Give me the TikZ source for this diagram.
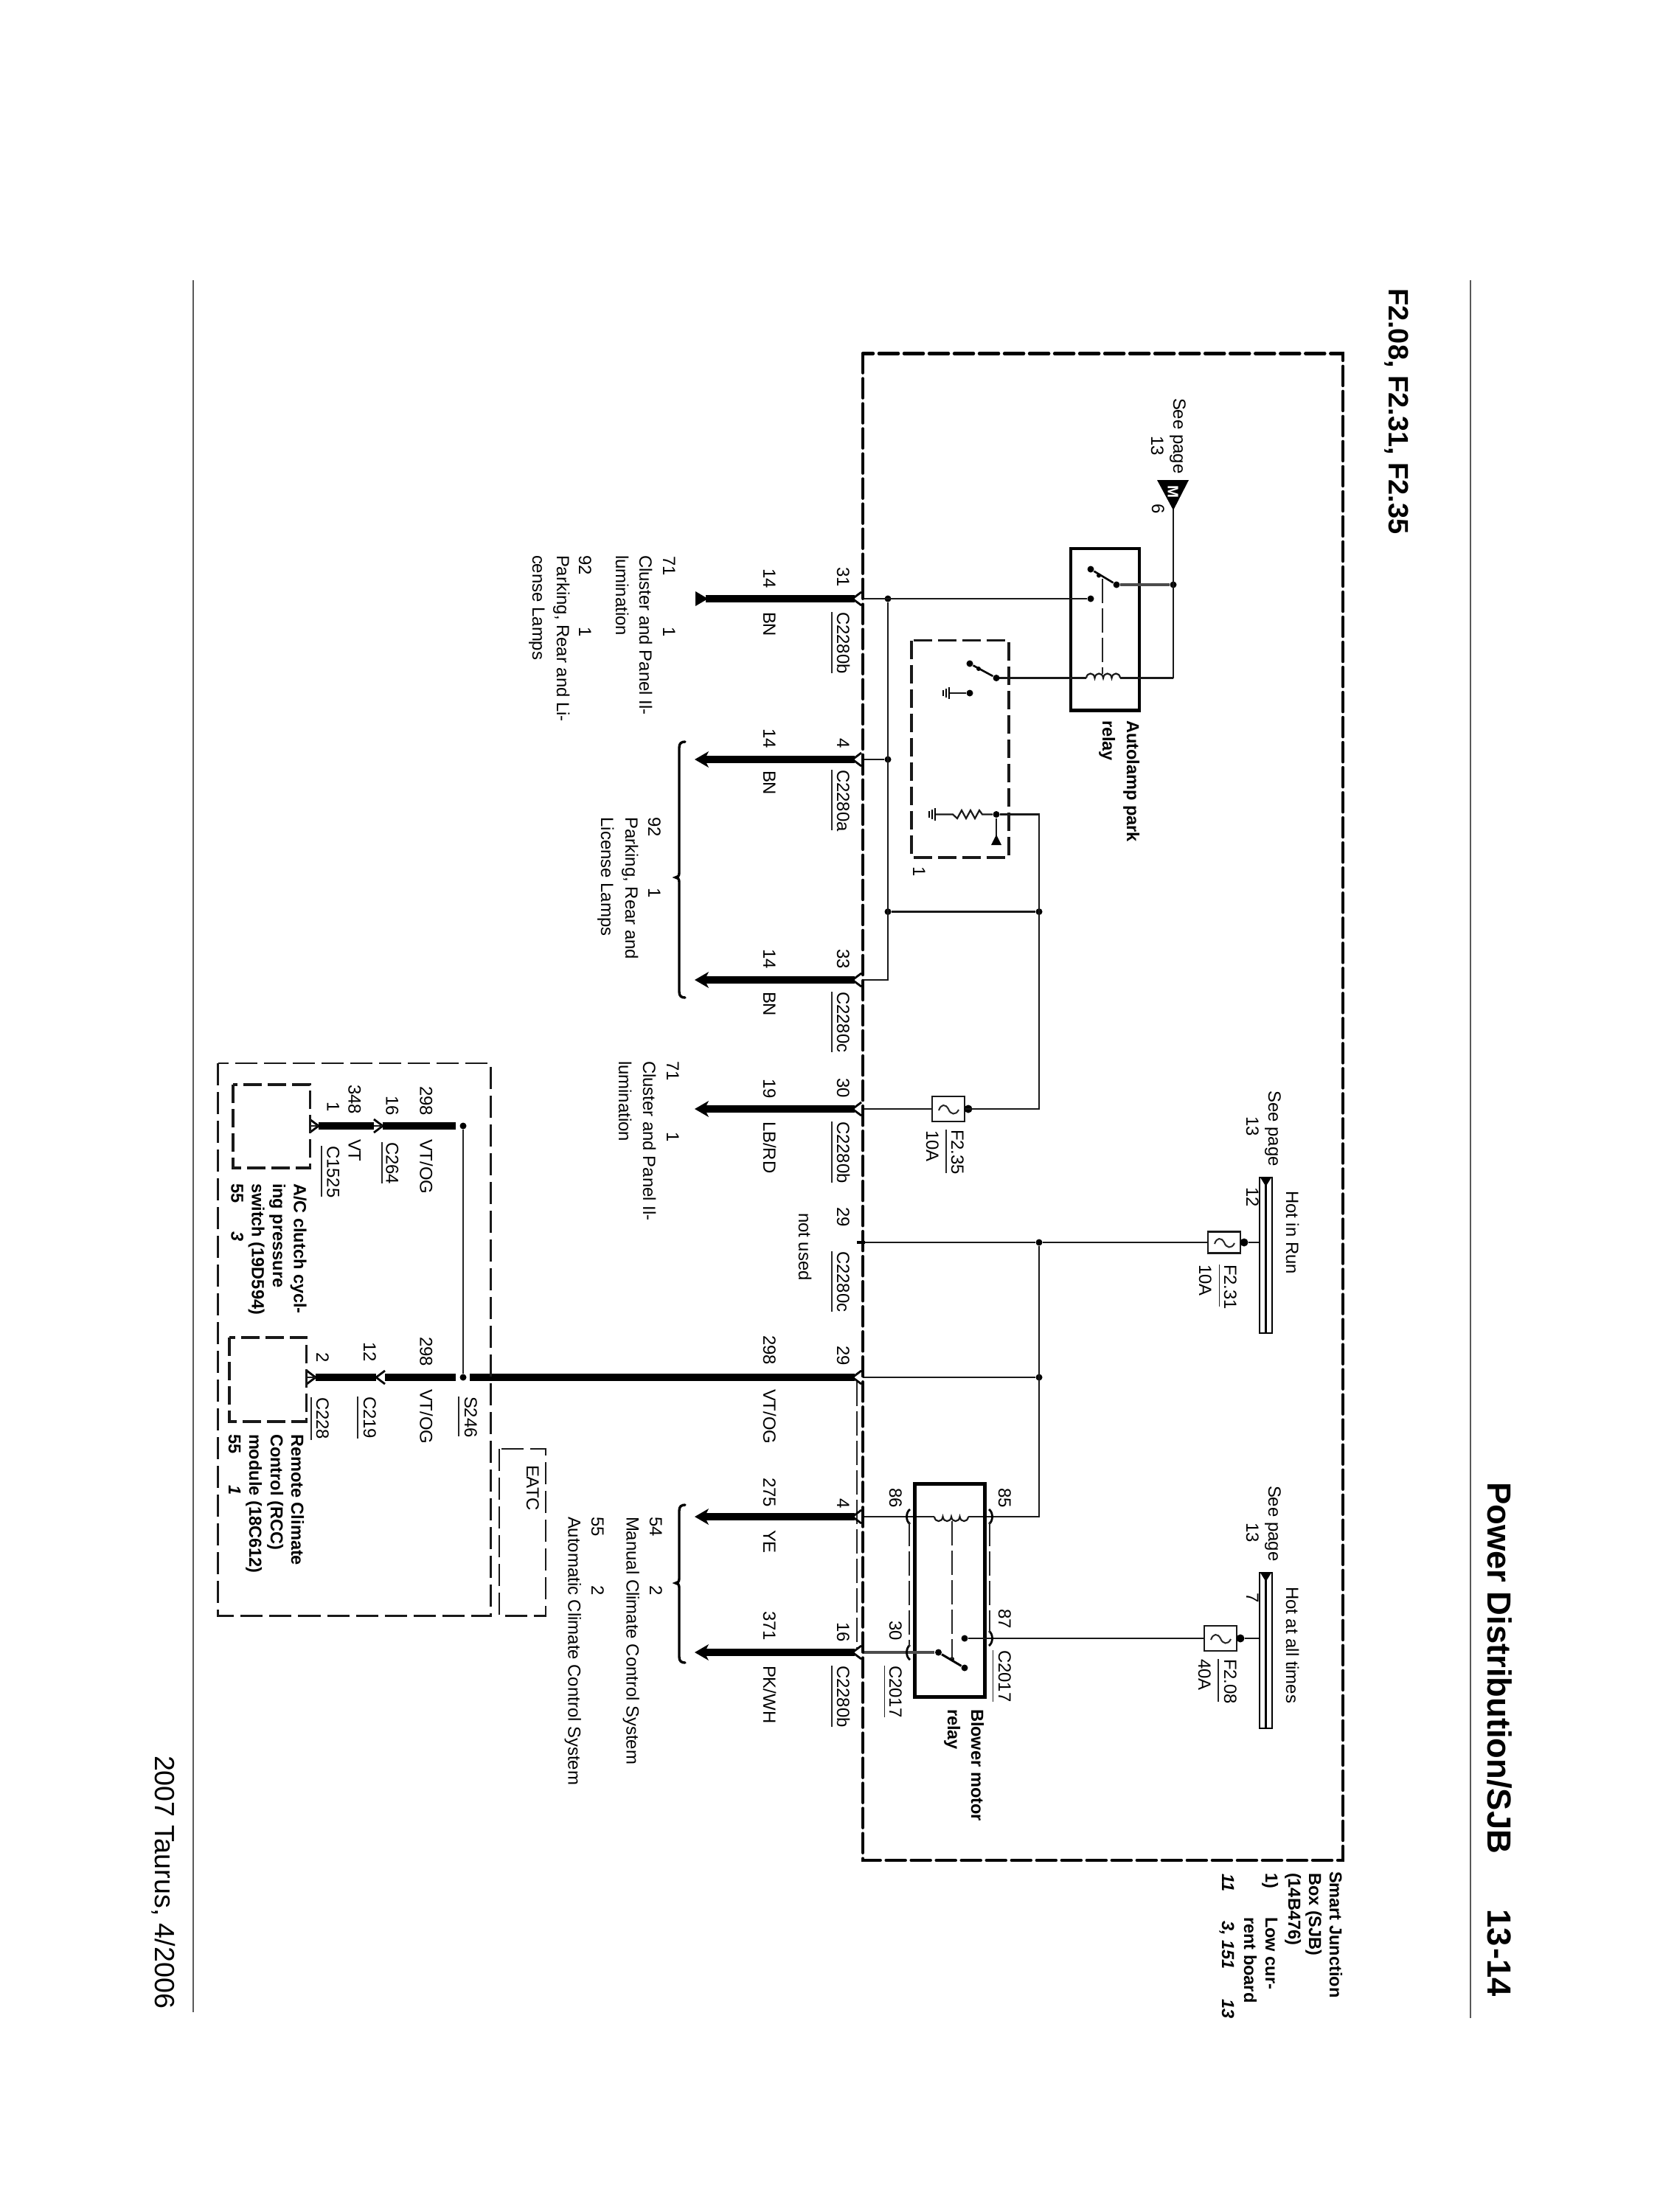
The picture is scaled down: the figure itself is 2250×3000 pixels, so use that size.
\documentclass[tikz,border=0pt]{standalone}
\usepackage{fontspec}
\setmainfont{Liberation Sans}
\usetikzlibrary{arrows.meta}
\newcount\tn
\tikzset{
 x=0.01cm,y=-0.01cm,
 txt/.style={anchor=base west,rotate=-90,inner sep=0pt,outer sep=0pt,font=\fontsize{6.8}{8}\selectfont,text=black},
 btxt/.style={txt,font=\fontsize{6.7}{8}\selectfont\bfseries},
 itxt/.style={txt,font=\fontsize{6.7}{8}\selectfont\bfseries\itshape},
 wire/.style={line width=0.022cm,black!90},
 heavy/.style={line width=0.10cm,black},
 graywire/.style={line width=0.042cm,black!70},
 link/.style={line width=0.022cm,black!85,dash pattern=on 0.33cm off 0.07cm},
 boxdash/.style={line width=0.045cm,black,line cap=round,dash pattern=on 0.26cm off 0.08cm},
 innerdash/.style={line width=0.035cm,black!90,dash pattern=on 0.25cm off 0.08cm},
 extdash/.style={line width=0.022cm,black!90,dash pattern=on 0.30cm off 0.09cm},
 jdot/.style={circle,fill=black,inner sep=0pt,minimum size=0.09cm},
 relaybox/.style={draw=black,line width=0.046cm,inner sep=0pt},
 fusebox/.style={draw=black!90,line width=0.026cm,fill=white,inner sep=0pt,minimum width=0.44cm},
 rule/.style={line width=0.02cm,black!65},
 chev/.style={line width=0.028cm,black,line join=miter},
 brace/.style={line width=0.034cm,black,line cap=round},
 ul/.style={line width=0.016cm,black!85},
}
\newcommand{\T}[3]{\global\advance\tn by 1\node[txt] (t\the\tn) at (#1,#2) {#3};}
\newcommand{\B}[3]{\global\advance\tn by 1\node[btxt] (t\the\tn) at (#1,#2) {#3};}
\newcommand{\I}[3]{\global\advance\tn by 1\node[itxt] (t\the\tn) at (#1,#2) {#3};}
% underlined connector label: baseline x, start y, end y, rule x, text
\newcommand{\UL}[5]{\T{#1}{#2}{#5}\draw[ul] (#4,#2) -- (#4,#3);}
% chevrons: apex at x, arms opening to the right / left
\newcommand{\chevL}[2]{\draw[chev] (#1+12,#2-9) -- (#1,#2) -- (#1+12,#2+9);}
\newcommand{\chevR}[2]{\draw[chev] (#1-12,#2-9) -- (#1,#2) -- (#1-12,#2+9);}
% pin brackets
\newcommand{\pinL}[2]{\draw[chev] (#1+6,#2-10) .. controls (#1,#2-6) and (#1,#2+6) .. (#1+6,#2+10);}
\newcommand{\pinR}[2]{\draw[chev] (#1-6,#2-10) .. controls (#1,#2-6) and (#1,#2+6) .. (#1-6,#2+10);}
% arrow tip at the far end of a heavy wire
\newcommand{\tipL}[2]{\fill[black] (#1,#2) -- (#1+19,#2-11) -- (#1+16,#2-5) -- (#1+16,#2+5) -- (#1+19,#2+11) -- cycle;}
% fuse wave, x0 = left side of fuse
\newcommand{\wave}[2]{\draw[line width=0.02cm,black!85] (#1+9,#2+2) .. controls (#1+12,#2-7) and (#1+18,#2-7) .. (#1+22,#2) .. controls (#1+25,#2+8) and (#1+32,#2+9) .. (#1+36,#2+1);}
% power bar, from y1 to y2
\newcommand{\pbar}[2]{\draw[line width=0.026cm,black] (1708,#1) rectangle (1725,#2);
 \draw[line width=0.026cm,black] (1716.5,#1) -- (1716.5,#2);
 \fill[black] (1709,#1) -- (1724,#1) -- (1716.5,#1+12) -- cycle;}
\begin{document}
\begin{tikzpicture}
\useasboundingbox (0,0) rectangle (2250,3000);
\fill[white] (0,0) rectangle (2250,3000);

% page furniture
\coordinate (rr1) at (1994,380); \coordinate (rr2) at (1994,2737);
\coordinate (rl1) at (262,380); \coordinate (rl2) at (262,2729);
\draw[rule] (rr1) -- (rr2);
\draw[rule] (rl1) -- (rl2);
\node[txt,font=\fontsize{12.9}{14}\selectfont\bfseries] (title) at (2017,2010) {Power Distribution/SJB};
\node[txt,font=\fontsize{12.9}{14}\selectfont\bfseries] (page) at (2017,2589) {13\kern.06em-14};
\node[txt,font=\fontsize{10.8}{12}\selectfont\bfseries] (sub) at (1883,391) {F2.08, F2.31, F2.35};
\node[txt,font=\fontsize{10.7}{12}\selectfont] (foot) at (210,2381) {2007 Taurus, 4/2006};

% junctions
\node[jdot] (jtop) at (1591,793) {};
\node[jdot] (j31) at (1204,812) {};
\node[jdot] (j4) at (1204,1030) {};
\node[jdot] (jh1) at (1204,1236.5) {};
\node[jdot] (jh2) at (1409,1236.5) {};
\node[jdot] (jrun) at (1409,1685) {};
\node[jdot] (j298) at (1409,1868) {};
\node[jdot] (jres) at (1351,1104.5) {};
\node[jdot] (jS) at (628,1868) {};
\node[jdot] (jSu) at (628,1527) {};

% named free ends
\coordinate (c31) at (1170,812); \coordinate (c4) at (1170,1030); \coordinate (c33) at (1170,1329);
\coordinate (c30) at (1170,1504); \coordinate (c29n) at (1173,1685); \coordinate (c29) at (1170,1868);
\coordinate (c4b) at (1170,2057); \coordinate (c16) at (1170,2241);
\coordinate (cor33) at (1204,1329); \coordinate (corres) at (1409,1104.5); \coordinate (cor30) at (1409,1504);
\coordinate (cor85) at (1409,2057);
\coordinate (ctop) at (1591,691); \coordinate (ccoil) at (1591,919.5);
\coordinate (coil2A) at (1267,2057); \coordinate (coil2B) at (1313,2057);

% autolamp relay
\node[relaybox,minimum width=0.93cm,minimum height=2.195cm] (rel1) at (1498.5,853.7) {};
\node[jdot] (s1a) at (1479,772) {};
\node[jdot] (s1b) at (1514,793) {};
\node[jdot] (s1c) at (1479,812) {};
\node[jdot,minimum size=0.06cm] (s1m) at (1490,780.5) {};
\draw[line width=0.026cm,black] (s1a) -- (s1b);
\draw[graywire] (s1b) -- (jtop);
\draw[wire] (ctop) -- (ccoil);
\coordinate (coilA) at (1473,919.5); \coordinate (coilB) at (1519,919.5);
\draw[wire] (ccoil) -- (coilB);
\draw[wire] (coilB) .. controls +(-1,-8) and +(1,-8) .. ++(-11.5,0) .. controls +(-1,-8) and +(1,-8) .. ++(-11.5,0) .. controls +(-1,-8) and +(1,-8) .. ++(-11.5,0) .. controls +(-1,-8) and +(1,-8) .. ++(-11.5,0);
\coordinate (s2b) at (1351,919.5);
\draw[wire] (coilA) -- (s2b);
\coordinate (d1a) at (1495,785); \coordinate (d1b) at (1495,914);
\draw[link] (d1a) -- (d1b);
\draw[wire] (s1c) -- (c31);

% M symbol
\fill[black] (1569,651) -- (1612,651) -- (1591,692) -- cycle;
\node[anchor=center,rotate=-90,inner sep=0pt,text=white,font=\fontsize{5.8}{7}\selectfont\bfseries] (mm) at (1590.5,667) {M};

% low current board box
\draw[innerdash] (1236,868.5) rectangle (1368,1163);
\node[jdot] (s2p) at (1351,919.5) {};
\node[jdot] (s2a) at (1315,900) {};
\node[jdot] (s2g) at (1315,940) {};
\node[jdot,minimum size=0.06cm] (s2m) at (1327,907) {};
\draw[line width=0.026cm,black] (s2a) -- (s2p);
\coordinate (g1) at (1287,940);
\draw[wire] (s2g) -- (g1);
\draw[line width=0.022cm,black] (1287,932) -- (1287,948) (1283,934) -- (1283,946) (1279,936) -- (1279,944);
\coordinate (g2) at (1268,1104.5);
\draw[wire] (jres) -- (1332,1104.5) -- (1328,1099) -- (1322,1110) -- (1316,1099) -- (1310,1110) -- (1304,1099) -- (1298,1110) -- (1292,1104.5) -- (g2);
\draw[line width=0.022cm,black] (1268,1096) -- (1268,1113) (1264,1098) -- (1264,1111) (1260,1100) -- (1260,1109);
\coordinate (tri) at (1351,1136);
\draw[wire] (jres) -- (tri);
\fill[black] (1351,1132) -- (1358,1146) -- (1344,1146) -- cycle;
\T{1238}{1175}{1}

% fuses
\node[fusebox,minimum height=0.34cm] (f235) at (1286,1504) {};
\wave{1264}{1504}
\node[jdot,minimum size=0.11cm] (f235d) at (1313,1504) {};
\node[fusebox,minimum height=0.285cm] (f231) at (1660,1685) {};
\wave{1638}{1685}
\node[jdot,minimum size=0.11cm] (f231d) at (1687,1685) {};
\coordinate (b1) at (1708,1685);
\draw[wire] (f231d) -- (b1);
\node[fusebox,minimum height=0.34cm] (f208) at (1655,2222) {};
\wave{1633}{2222}
\node[jdot,minimum size=0.11cm] (f208d) at (1682,2222) {};
\coordinate (b2) at (1708,2222);
\draw[wire] (f208d) -- (b2);
\pbar{1597}{1808}
\pbar{2133}{2344}

% distribution wiring
\draw[wire] (j31) -- (cor33) -- (c33);
\draw[wire] (j4) -- (c4);
\draw[wire] (jh1) -- (jh2);
\draw[wire] (jres) -- (corres) -- (cor30) -- (f235);
\draw[wire] (f235) -- (c30);
\draw[wire] (jrun) -- (cor85) -- (coil2B);
\draw[wire] (coil2A) -- (c4b);
\draw[wire] (jrun) -- (c29n);
\draw[wire] (jrun) -- (f231);
\draw[wire] (j298) -- (c29);
\draw[line width=0.045cm,black] (c29n) -- (1162,1685);

% blower relay
\node[relaybox,minimum width=0.95cm,minimum height=2.885cm] (rel2) at (1288,2157) {};
\node[jdot] (s3a) at (1272.5,2241) {};
\node[jdot] (s3b) at (1308,2262) {};
\node[jdot] (s3c) at (1308,2222) {};
\node[jdot,minimum size=0.06cm] (s3m) at (1291,2250) {};
\draw[line width=0.03cm,black] (s3a) -- (s3b);
\draw[graywire] (s3a) -- (c16);
\draw[wire] (s3c) -- (f208);
\draw[wire] (coil2B) .. controls +(-1,8) and +(1,8) .. ++(-11.5,0) .. controls +(-1,8) and +(1,8) .. ++(-11.5,0) .. controls +(-1,8) and +(1,8) .. ++(-11.5,0) .. controls +(-1,8) and +(1,8) .. ++(-11.5,0);
\coordinate (d2a) at (1291,2063); \coordinate (d2b) at (1291,2250);
\draw[link] (d2a) -- (d2b);
\pinL{1228}{2057} \pinL{1228}{2241} \pinR{1347}{2057} \pinR{1347}{2222}
\coordinate (p1a) at (1233,2064); \coordinate (p1b) at (1233,2233);
\coordinate (p2a) at (1342,2064); \coordinate (p2b) at (1342,2214);
\draw[link] (p1a) -- (p1b);
\draw[link] (p2a) -- (p2b);
\coordinate (p3a) at (1162,1874); \coordinate (p3b) at (1162,2235);
\draw[link] (p3a) -- (p3b);

% outer dashed box
\draw[boxdash] (1170,479.5) rectangle (1821,2523);

% heavy wires
\draw[heavy] (957,812) -- (1159,812);
\fill[black] (943,802) -- (943,822) -- (960,812) -- cycle;
\chevL{1156}{812}
\foreach \yy in {1030,1329,1504,2057,2241}{
 \draw[heavy] (958,\yy) -- (1159,\yy);
 \tipL{942}{\yy}
 \chevL{1156}{\yy}
}
\draw[heavy] (637,1868) -- (1159,1868);
\chevL{1156}{1868}
\draw[heavy] (522,1868) -- (618,1868);
\chevL{510}{1868}
\draw[heavy] (428,1868) -- (510,1868);
\chevR{428}{1868}
\draw[heavy] (519,1527) -- (618,1527);
\chevR{519}{1527}
\draw[heavy] (432,1527) -- (507,1527);
\draw[wire] (507,1527) -- (519,1527);
\chevR{432}{1527}
\draw[wire] (420,1527) -- (432,1527);
\draw[wire] (416,1868) -- (428,1868);
\draw[line width=0.02cm,black!85] (jSu) -- (jS);

% braces
\draw[brace] (929,1006) .. controls (924,1006) and (921,1008) .. (921,1014) -- (921,1184) .. controls (921,1188) and (919,1190) .. (916,1190) .. controls (919,1190) and (921,1192) .. (921,1196) -- (921,1345) .. controls (921,1351) and (924,1353) .. (929,1353);
\draw[brace] (929,2041) .. controls (924,2041) and (921,2043) .. (921,2049) -- (921,2141) .. controls (921,2145) and (919,2147) .. (916,2147) .. controls (919,2147) and (921,2149) .. (921,2153) -- (921,2247) .. controls (921,2253) and (924,2255) .. (929,2255);

% lower dashed boxes
\draw[extdash] (295.5,1442) rectangle (665.4,2191.5);
\draw[extdash] (677,1965) rectangle (740,2191.5);
\draw[innerdash] (316,1471) rectangle (420.5,1584);
\draw[innerdash] (311,1814) rectangle (415.5,1928);

% ---- labels: connector column
\T{1135}{769}{31}
\UL{1135}{830}{913}{1128}{C2280b}
\T{1135}{1001}{4}
\UL{1135}{1044}{1126}{1128}{C2280a}
\T{1135}{1287}{33}
\UL{1135}{1345}{1427}{1128}{C2280c}
\T{1135}{1462}{30}
\UL{1135}{1521}{1604}{1128}{C2280b}
\T{1135}{1637}{29}
\UL{1135}{1697}{1779}{1128}{C2280c}
\T{1083}{1645}{not used}
\T{1135}{1825}{29}
\T{1135}{2032}{4}
\T{1135}{2200}{16}
\UL{1135}{2259}{2342}{1128}{C2280b}

% wire numbers and colours
\T{1035}{771}{14}  \T{1035}{830}{BN}
\T{1035}{988}{14}  \T{1035}{1045}{BN}
\T{1035}{1287}{14} \T{1035}{1345}{BN}
\T{1035}{1463}{19} \T{1035}{1521}{LB/RD}
\T{1035}{1811}{298} \T{1035}{1884}{VT/OG}
\T{1035}{2004}{275} \T{1035}{2075}{YE}
\T{1035}{2185}{371} \T{1035}{2259}{PK/WH}

% destinations
\T{899}{754}{71} \T{899}{850}{1}
\T{867}{753}{Cluster and Panel Il-}
\T{835}{753}{lumination}
\T{785}{753}{92} \T{785}{850}{1}
\T{755}{753}{Parking, Rear and Li-}
\T{722}{753}{cense Lamps}

\T{879}{1108.5}{92} \T{879}{1204}{1}
\T{848}{1108.5}{Parking, Rear and}
\T{815}{1108.5}{License Lamps}

\T{904}{1439}{71} \T{904}{1535}{1}
\T{872}{1439}{Cluster and Panel Il-}
\T{839}{1439}{lumination}

\T{881}{2057}{54} \T{881}{2150}{2}
\T{849.5}{2057}{Manual Climate Control System}
\T{802}{2057}{55} \T{802}{2150}{2}
\T{770.5}{2057}{Automatic Climate Control System}

% autolamp relay labels
\T{1591}{540}{See page}
\T{1561}{591}{13}
\T{1562}{683}{6}
\B{1528}{977}{Autolamp park}
\B{1495}{977}{relay}

% fuse labels
\T{1290}{1532}{F2.35} \draw[ul] (1283,1532) -- (1283,1591);
\T{1256}{1533}{10A}
\T{1660}{1715}{F2.31} \draw[ul] (1653.5,1715) -- (1653.5,1772);
\T{1626}{1715}{10A}
\T{1660}{2250}{F2.08} \draw[ul] (1652,2250) -- (1652,2308);
\T{1625}{2250}{40A}

% bars
\T{1720}{1479.5}{See page}
\T{1690}{1514}{13}
\T{1690}{1610}{12}
\T{1744}{1615}{Hot in Run}
\T{1720}{2015}{See page}
\T{1690}{2065}{13}
\T{1690}{2160}{7}
\T{1744}{2152}{Hot at all times}

% blower relay labels
\T{1354}{2018}{85}
\T{1206}{2018}{86}
\T{1354}{2182}{87}
\T{1206}{2198}{30}
\UL{1354}{2238}{2308}{1346.5}{C2017}
\UL{1206}{2259}{2329}{1199.5}{C2017}
\B{1317}{2318}{Blower motor}
\B{1285}{2318}{relay}

% SJB
\B{1803}{2538}{Smart Junction}
\B{1775}{2540}{Box (SJB)}
\B{1747}{2540}{(14B476)}
\B{1716}{2540}{1)}
\B{1716}{2600}{Low cur-}
\B{1687}{2600}{rent board}
\I{1657}{2541}{11}
\I{1657}{2605}{3, 151}
\I{1657}{2711}{13}

% EATC and lower area
\T{714}{1987}{EATC}
\T{569.5}{1473}{298} \T{569.5}{1545}{VT/OG}
\T{523.5}{1486}{16}
\UL{523.5}{1549}{1605}{518}{C264}
\T{472.5}{1471}{348} \T{472.5}{1545}{VT}
\T{443.5}{1494}{1}
\UL{443.5}{1554}{1623}{436}{C1525}
\B{398.5}{1605}{A/C clutch cycl-}
\B{370}{1605}{ing pressure}
\B{341.5}{1605}{switch (19D594)}
\B{313.5}{1605}{55}
\I{313.5}{1670}{3}
\T{569.5}{1813}{298} \T{569.5}{1884}{VT/OG}
\T{493}{1820}{12}
\UL{493}{1894}{1951}{485}{C219}
\T{429}{1834}{2}
\UL{429}{1895}{1953}{422}{C228}
\UL{630}{1894}{1948}{622}{S246}
\B{395}{1945}{Remote Climate}
\B{367}{1945}{Control (RCC)}
\B{338}{1945}{module (18C612)}
\B{310}{1945}{55}
\I{310}{2014}{1}
\end{tikzpicture}
\end{document}
